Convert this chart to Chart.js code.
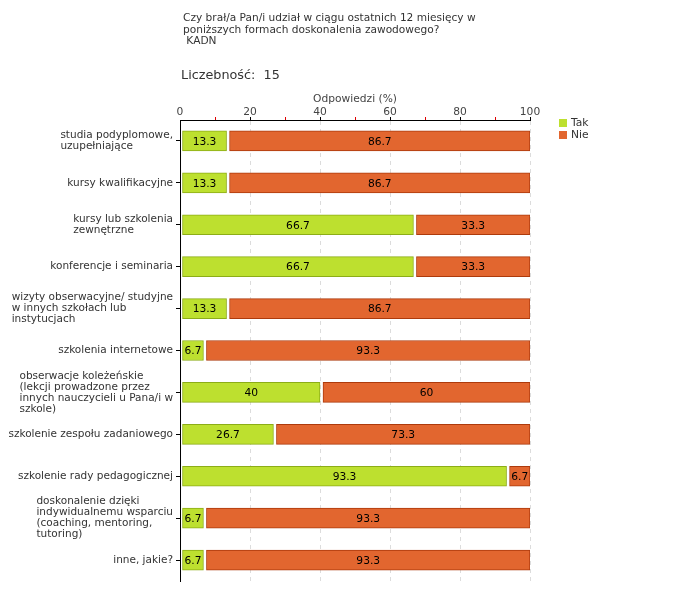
<!DOCTYPE html>
<html>
<head>
<meta charset="utf-8">
<script src="https://cdn.jsdelivr.net/npm/chart.js@4.4.1/dist/chart.umd.min.js"></script>
<style>
  body { margin: 0; background: #fff; }
  #wrap { position: relative; width: 680px; height: 600px; }
  #c { position: absolute; left: 0; top: 0; }
  .txt { position: absolute; font-family: "DejaVu Sans", sans-serif; color: #333; white-space: nowrap; }
  .sq { position: absolute; width: 8px; height: 8px; }
</style>
</head>
<body>
<div id="wrap">
  <canvas id="c" width="680" height="600"></canvas>
  <div class="txt" style="left:183px;top:12px;font-size:10.6px;line-height:11.5px;">
    Czy brał/a Pan/i udział w ciągu ostatnich 12 miesięcy w<br>
    poniższych formach doskonalenia zawodowego?<br>
    &nbsp;KADN
  </div>
  <div class="txt" style="left:181px;top:67px;font-size:12.8px;">Liczebność:&nbsp; 15</div>
  <div class="sq" style="left:559px;top:119px;background:#bde02f;"></div>
  <div class="txt" style="left:571px;top:116px;font-size:10.7px;">Tak</div>
  <div class="sq" style="left:559px;top:131px;background:#e2662f;"></div>
  <div class="txt" style="left:571px;top:128px;font-size:10.7px;">Nie</div>
</div>
<script>
// kategorie (linie etykiet)
const categories = [
  ['studia podyplomowe,', 'uzupełniające'],
  ['kursy kwalifikacyjne'],
  ['kursy lub szkolenia', 'zewnętrzne'],
  ['konferencje i seminaria'],
  ['wizyty obserwacyjne/ studyjne', 'w innych szkołach lub', 'instytucjach'],
  ['szkolenia internetowe'],
  ['obserwacje koleżeńskie', '(lekcji prowadzone przez', 'innych nauczycieli u Pana/i w', 'szkole)'],
  ['szkolenie zespołu zadaniowego'],
  ['szkolenie rady pedagogicznej'],
  ['doskonalenie dzięki', 'indywidualnemu wsparciu', '(coaching, mentoring,', 'tutoring)'],
  ['inne, jakie?']
];
const tak = [13.3, 13.3, 66.7, 66.7, 13.3, 6.7, 40, 26.7, 93.3, 6.7, 6.7];
const nie = [86.7, 86.7, 33.3, 33.3, 86.7, 93.3, 60, 73.3, 6.7, 93.3, 93.3];
const seriesNames = ['Tak', 'Nie'];

const FONT = '"DejaVu Sans", sans-serif';

// mala przerwa miedzy segmentami
const gapPlugin = {
  id: 'gap',
  afterDatasetsUpdate(chart) {
    chart.getDatasetMeta(0).data.forEach(b => { b.base += 2; });
    chart.getDatasetMeta(1).data.forEach(b => { b.base += 3; });
  }
};

// wartosci na slupkach
const valuePlugin = {
  id: 'values',
  afterDatasetsDraw(chart) {
    const ctx = chart.ctx;
    ctx.save();
    ctx.font = '10.7px ' + FONT;
    ctx.fillStyle = '#000';
    ctx.textAlign = 'center';
    ctx.textBaseline = 'middle';
    chart.data.datasets.forEach((ds, di) => {
      chart.getDatasetMeta(di).data.forEach((b, i) => {
        ctx.fillText(String(ds.data[i]), (b.x + b.base) / 2, b.y + 1);
      });
    });
    ctx.restore();
  }
};

// etykiety osi Y: blok wyrownany do prawej, linie do lewej
const yLabelPlugin = {
  id: 'ylabels',
  afterDraw(chart) {
    const ctx = chart.ctx, y = chart.scales.y;
    ctx.save();
    ctx.font = '10.5px ' + FONT;
    ctx.fillStyle = '#333';
    ctx.textAlign = 'left';
    ctx.textBaseline = 'middle';
    const lh = 11;
    categories.forEach((lines, i) => {
      const cy = y.getPixelForValue(i);
      const w = Math.max(...lines.map(l => ctx.measureText(l).width));
      const x0 = y.right - 7 - w;
      lines.forEach((l, j) => {
        ctx.fillText(l, x0, cy + (j - (lines.length - 1) / 2) * lh);
      });
    });
    ctx.restore();
  }
};

new Chart(document.getElementById('c'), {
  type: 'bar',
  data: {
    labels: categories.map(l => l.join(' ')),
    datasets: [
      { label: seriesNames[0], data: tak, backgroundColor: '#bde02f', borderColor: '#8cad17', borderWidth: 1, borderSkipped: false },
      { label: seriesNames[1], data: nie, backgroundColor: '#e2662f', borderColor: '#ad3a0c', borderWidth: 1, borderSkipped: false }
    ]
  },
  options: {
    indexAxis: 'y',
    responsive: false,
    animation: false,
    layout: { padding: { top: 84, right: 150, bottom: 19, left: 0 } },
    datasets: { bar: { barThickness: 20 } },
    plugins: { legend: { display: false }, tooltip: { enabled: false } },
    scales: {
      x: {
        position: 'top',
        stacked: true,
        min: 0, max: 100,
        afterFit(s) { s.height = 36; },
        ticks: {
          stepSize: 10,
          padding: -2,
          color: '#444',
          font: { family: FONT, size: 10.7 },
          callback: v => (v % 20 === 0 ? v : '')
        },
        grid: {
          tickLength: 3,
          color: c => (c.tick && c.tick.value % 20 === 0 && c.tick.value > 0 ? '#dcdcdc' : 'rgba(0,0,0,0)'),
          tickColor: c => (c.tick && c.tick.value === 0 ? 'rgba(0,0,0,0)' : (c.tick && c.tick.value % 20 === 0 ? '#000' : '#e00000'))
        },
        border: { display: true, color: '#000', width: 1, dash: [4, 4] },
        title: {
          display: true,
          text: 'Odpowiedzi (%)',
          color: '#444',
          font: { family: FONT, size: 10.7 },
          padding: { top: 9, bottom: 0 }
        }
      },
      y: {
        stacked: true,
        afterFit(s) { s.width = 180; },
        ticks: { display: false },
        grid: { drawOnChartArea: false, offset: false, tickLength: 4, color: '#000' },
        border: { display: true, color: '#000', width: 1 }
      }
    }
  },
  plugins: [gapPlugin, valuePlugin, yLabelPlugin]
});
</script>
</body>
</html>
